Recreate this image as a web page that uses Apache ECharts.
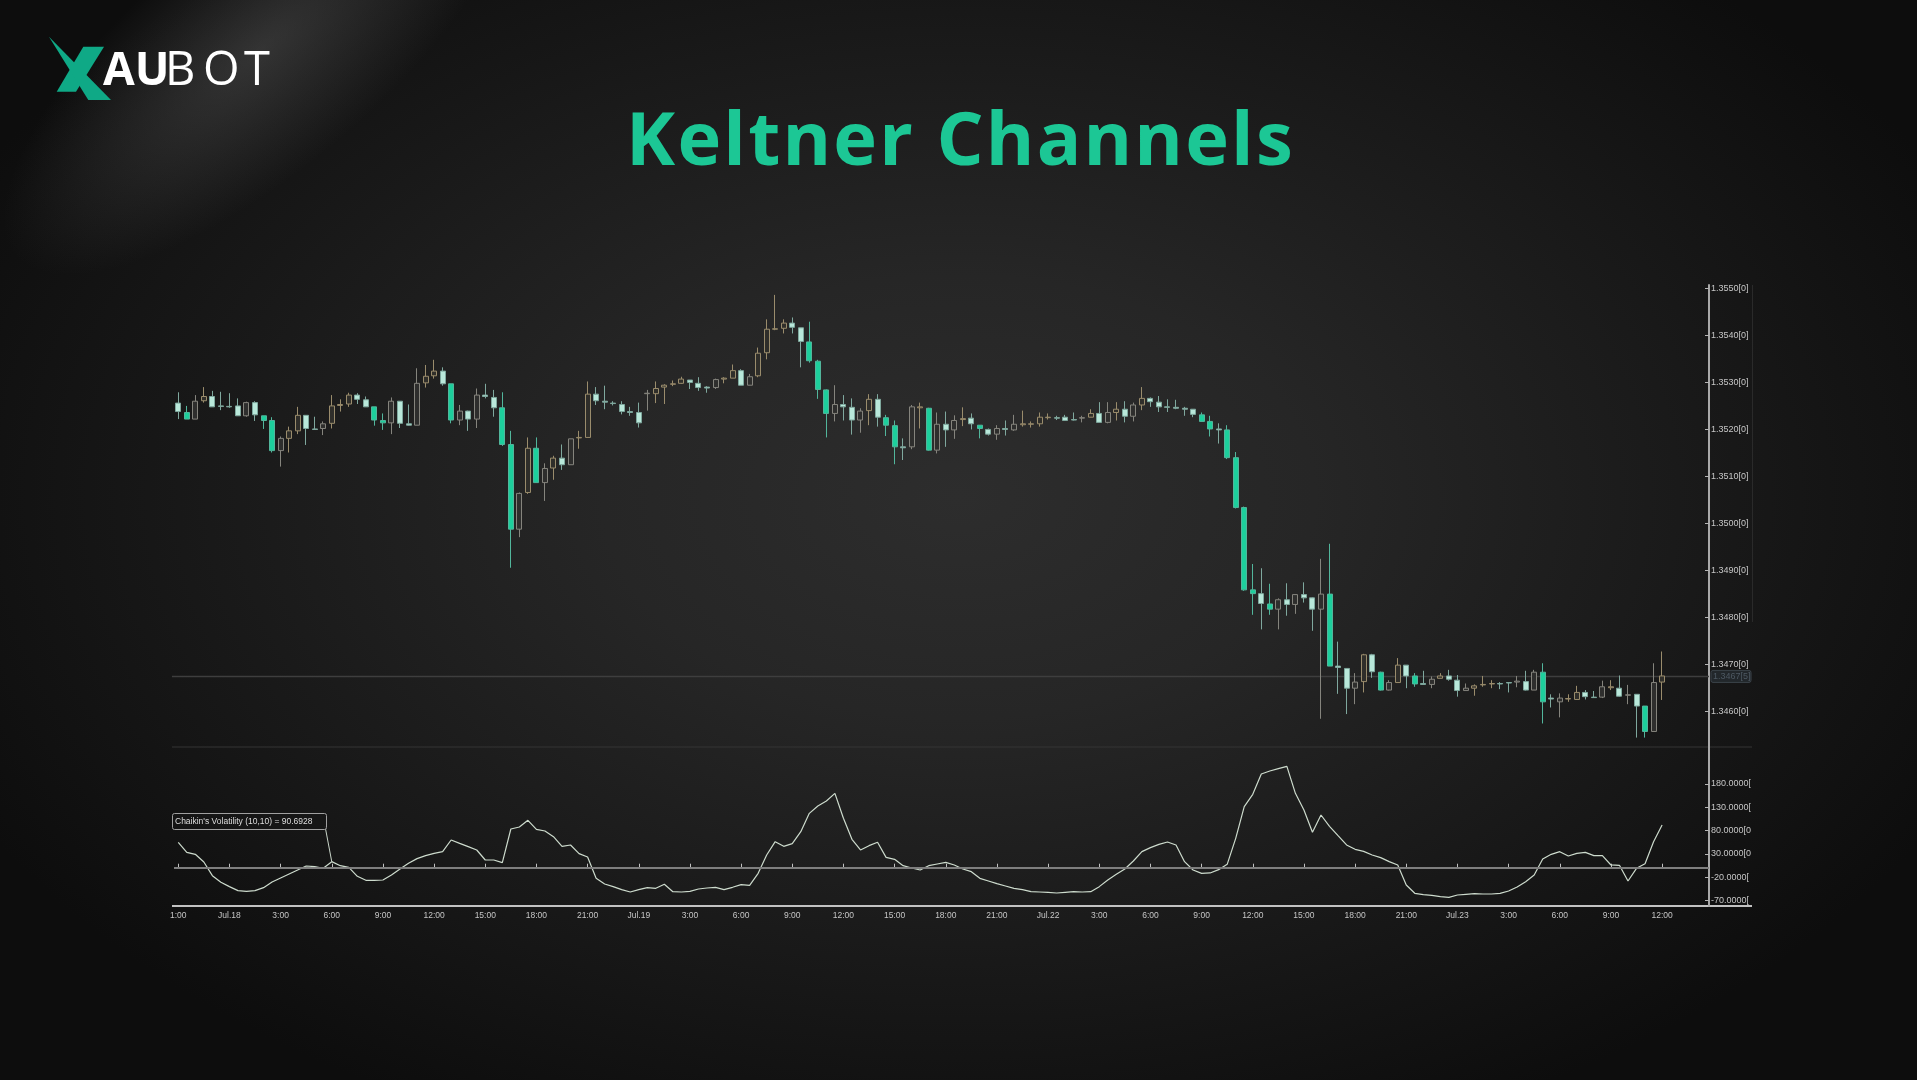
<!DOCTYPE html>
<html><head><meta charset="utf-8">
<script src="https://cdn.jsdelivr.net/npm/echarts@6/dist/echarts.min.js"></script>
<style>
html,body{margin:0;padding:0;width:1917px;height:1080px;overflow:hidden;background:#161616;}
#bg{position:absolute;left:0;top:0;width:1917px;height:1080px;
background:radial-gradient(ellipse 58% 64% at 50% 46%, #2d2d2d 0%, #262626 32%, #1b1b1b 62%, #0d0d0d 100%);}
#glow{position:absolute;left:-60px;top:-70px;width:640px;height:240px;transform:rotate(-40deg);
background:radial-gradient(closest-side, rgba(105,105,105,0.40), rgba(105,105,105,0));}
#chart{position:absolute;left:0;top:0;width:1917px;height:1080px;}
#title{position:absolute;left:0;width:1917px;top:87px;text-align:center;margin-left:2px;
font:bold 74px "Open Sans",sans-serif;letter-spacing:2.2px;color:#1cc795;line-height:100px;white-space:nowrap;}
</style></head>
<body><div id="bg"></div><div id="glow"></div><div id="title"></div><div id="chart"></div>
<script>
// ---- data (30-minute bars) ----
const OPEN = [
1.35256,1.35236,1.35222,1.35261,1.35270,1.35250,1.35249,1.35250,1.35229,1.35257,
1.35229,1.35219,1.35155,1.35181,1.35197,1.35230,1.35201,1.35202,1.35213,1.35251,
1.35254,1.35273,1.35263,1.35248,1.35219,1.35214,1.35260,1.35212,1.35209,1.35299,
1.35314,1.35324,1.35297,1.35220,1.35239,1.35222,1.35273,1.35268,1.35246,1.35168,
1.34988,1.35066,1.35160,1.35087,1.35118,1.35139,1.35125,1.35182,1.35183,1.35275,
1.35260,1.35256,1.35253,1.35238,1.35236,1.35276,1.35276,1.35290,1.35296,1.35298,
1.35305,1.35298,1.35290,1.35289,1.35307,1.35309,1.35325,1.35294,1.35314,1.35363,
1.35413,1.35415,1.35426,1.35416,1.35386,1.35345,1.35284,1.35234,1.35253,1.35247,
1.35220,1.35240,1.35264,1.35225,1.35208,1.35163,1.35163,1.35246,1.35245,1.35156,
1.35211,1.35199,1.35221,1.35224,1.35209,1.35200,1.35190,1.35202,1.35199,1.35210,
1.35211,1.35212,1.35225,1.35225,1.35226,1.35221,1.35224,1.35226,1.35234,1.35215,
1.35236,1.35243,1.35228,1.35252,1.35266,1.35258,1.35248,1.35247,1.35245,1.35243,
1.35231,1.35217,1.35201,1.35199,1.35140,1.35034,1.34859,1.34851,1.34829,1.34818,
1.34838,1.34828,1.34849,1.34842,1.34818,1.34850,1.34697,1.34692,1.34650,1.34664,
1.34721,1.34684,1.34646,1.34662,1.34699,1.34676,1.34660,1.34658,1.34671,1.34676,
1.34667,1.34645,1.34650,1.34657,1.34659,1.34660,1.34662,1.34663,1.34664,1.34646,
1.34684,1.34629,1.34621,1.34627,1.34626,1.34641,1.34631,1.34631,1.34651,1.34650,
1.34635,1.34637,1.34612,1.34558,1.34663];
const CLOSE = [
1.35238,1.35222,1.35260,1.35270,1.35248,1.35249,1.35248,1.35229,1.35257,1.35231,
1.35219,1.35155,1.35181,1.35197,1.35230,1.35202,1.35200,1.35212,1.35250,1.35253,
1.35273,1.35264,1.35248,1.35220,1.35214,1.35260,1.35213,1.35209,1.35298,1.35313,
1.35324,1.35297,1.35220,1.35239,1.35222,1.35273,1.35270,1.35246,1.35168,1.34988,
1.35064,1.35160,1.35087,1.35117,1.35139,1.35125,1.35180,1.35183,1.35275,1.35261,
1.35258,1.35255,1.35238,1.35236,1.35214,1.35277,1.35287,1.35294,1.35297,1.35307,
1.35300,1.35289,1.35288,1.35306,1.35309,1.35325,1.35294,1.35312,1.35362,1.35413,
1.35414,1.35426,1.35417,1.35387,1.35346,1.35285,1.35234,1.35253,1.35248,1.35220,
1.35239,1.35264,1.35226,1.35209,1.35163,1.35161,1.35248,1.35248,1.35156,1.35211,
1.35199,1.35219,1.35223,1.35212,1.35202,1.35190,1.35202,1.35200,1.35211,1.35212,
1.35212,1.35226,1.35226,1.35224,1.35219,1.35220,1.35225,1.35234,1.35215,1.35236,
1.35243,1.35228,1.35252,1.35266,1.35259,1.35248,1.35247,1.35245,1.35243,1.35232,
1.35217,1.35201,1.35199,1.35140,1.35034,1.34859,1.34851,1.34830,1.34818,1.34838,
1.34828,1.34849,1.34842,1.34818,1.34850,1.34697,1.34694,1.34650,1.34663,1.34721,
1.34685,1.34646,1.34662,1.34699,1.34676,1.34659,1.34658,1.34669,1.34676,1.34669,
1.34645,1.34650,1.34655,1.34658,1.34660,1.34659,1.34661,1.34665,1.34646,1.34684,
1.34621,1.34627,1.34629,1.34628,1.34641,1.34632,1.34630,1.34653,1.34653,1.34633,
1.34636,1.34612,1.34558,1.34662,1.34676];
const LOW = [
1.35222,1.35222,1.35222,1.35257,1.35248,1.35241,1.35246,1.35229,1.35227,1.35218,
1.35201,1.35151,1.35121,1.35151,1.35190,1.35167,1.35199,1.35188,1.35202,1.35238,
1.35248,1.35254,1.35248,1.35208,1.35199,1.35190,1.35203,1.35208,1.35209,1.35289,
1.35308,1.35293,1.35213,1.35209,1.35197,1.35203,1.35266,1.35227,1.35165,1.34906,
1.34971,1.35063,1.35087,1.35048,1.35093,1.35114,1.35125,1.35159,1.35183,1.35252,
1.35243,1.35251,1.35232,1.35229,1.35204,1.35240,1.35256,1.35254,1.35292,1.35297,
1.35286,1.35282,1.35278,1.35286,1.35298,1.35309,1.35294,1.35294,1.35311,1.35349,
1.35411,1.35404,1.35404,1.35332,1.35342,1.35265,1.35183,1.35217,1.35219,1.35189,
1.35193,1.35209,1.35206,1.35186,1.35126,1.35135,1.35158,1.35202,1.35155,1.35149,
1.35163,1.35180,1.35207,1.35200,1.35181,1.35187,1.35178,1.35187,1.35197,1.35206,
1.35204,1.35206,1.35221,1.35220,1.35219,1.35219,1.35215,1.35226,1.35215,1.35213,
1.35219,1.35215,1.35217,1.35241,1.35248,1.35237,1.35237,1.35243,1.35229,1.35226,
1.35217,1.35185,1.35170,1.35137,1.35032,1.34857,1.34806,1.34775,1.34806,1.34775,
1.34804,1.34808,1.34832,1.34772,1.34585,1.34697,1.34638,1.34595,1.34616,1.34641,
1.34672,1.34645,1.34645,1.34662,1.34650,1.34653,1.34658,1.34650,1.34671,1.34666,
1.34632,1.34645,1.34634,1.34653,1.34650,1.34648,1.34641,1.34652,1.34645,1.34646,
1.34575,1.34609,1.34588,1.34621,1.34625,1.34626,1.34630,1.34629,1.34646,1.34632,
1.34616,1.34545,1.34545,1.34558,1.34625];
const HIGH = [
1.35279,1.35250,1.35273,1.35290,1.35282,1.35280,1.35277,1.35266,1.35259,1.35260,
1.35229,1.35226,1.35185,1.35206,1.35248,1.35230,1.35227,1.35217,1.35273,1.35264,
1.35278,1.35277,1.35270,1.35248,1.35234,1.35268,1.35260,1.35253,1.35330,1.35337,
1.35348,1.35332,1.35297,1.35252,1.35240,1.35287,1.35297,1.35284,1.35279,1.35197,
1.35066,1.35183,1.35183,1.35128,1.35144,1.35168,1.35180,1.35197,1.35302,1.35290,
1.35293,1.35260,1.35260,1.35248,1.35257,1.35284,1.35302,1.35296,1.35304,1.35312,
1.35305,1.35311,1.35292,1.35308,1.35311,1.35338,1.35328,1.35318,1.35374,1.35434,
1.35486,1.35434,1.35438,1.35416,1.35429,1.35348,1.35285,1.35294,1.35273,1.35266,
1.35245,1.35275,1.35275,1.35231,1.35219,1.35181,1.35252,1.35257,1.35246,1.35236,
1.35238,1.35230,1.35247,1.35234,1.35209,1.35202,1.35209,1.35219,1.35231,1.35240,
1.35217,1.35236,1.35234,1.35229,1.35231,1.35236,1.35229,1.35243,1.35258,1.35258,
1.35258,1.35260,1.35257,1.35290,1.35268,1.35271,1.35264,1.35263,1.35248,1.35243,
1.35236,1.35229,1.35213,1.35209,1.35152,1.35036,1.34914,1.34905,1.34872,1.34841,
1.34873,1.34850,1.34875,1.34843,1.34925,1.34957,1.34749,1.34692,1.34682,1.34723,
1.34723,1.34685,1.34667,1.34714,1.34699,1.34682,1.34687,1.34675,1.34682,1.34689,
1.34678,1.34660,1.34658,1.34676,1.34667,1.34663,1.34663,1.34676,1.34687,1.34689,
1.34703,1.34637,1.34639,1.34637,1.34655,1.34646,1.34644,1.34666,1.34667,1.34677,
1.34657,1.34637,1.34612,1.34703,1.34728];
const CHAIKIN = [
54.6,33.1,28.8,12.3,-17.1,-31.4,-40.7,-49.3,-50.7,-49.3,
-42.9,-30.7,-22.1,-13.5,-4.9,3.7,2.3,-1.3,13.0,4.4,
0.8,-18.5,-27.1,-27.1,-26.4,-15.6,-2.7,9.4,19.5,25.9,
30.9,34.5,59.6,52.4,45.3,38.1,16.6,16.6,10.9,83.2,
87.5,101.9,82.5,78.9,66.8,46.0,48.9,30.2,23.1,-22.8,
-35.0,-40.7,-47.2,-52.2,-47.2,-42.9,-44.3,-35.7,-51.5,-52.2,
-50.7,-45.7,-43.6,-42.1,-47.2,-42.1,-36.4,-37.9,-12.1,27.4,
56.0,46.0,51.7,77.5,116.9,132.7,143.4,159.9,106.2,61.0,
38.1,47.4,54.6,22.3,18.0,4.4,-0.6,-4.9,4.4,8.0,
11.6,5.9,-2.7,-8.5,-22.8,-28.5,-34.3,-39.3,-44.3,-47.2,
-51.5,-52.2,-52.9,-54.3,-52.9,-51.5,-52.2,-51.5,-40.7,-26.4,
-14.2,-2.7,14.5,34.5,43.1,50.3,55.3,48.9,13.0,-4.9,
-12.1,-11.3,-4.2,7.3,63.2,131.2,157.8,201.5,207.9,212.9,
217.9,159.9,124.1,76.1,113.3,89.0,68.9,48.9,39.5,35.2,
27.4,21.6,13.0,5.9,-37.1,-55.0,-57.9,-59.3,-62.2,-63.6,
-58.6,-57.2,-55.8,-56.5,-56.5,-55.0,-50.0,-41.4,-30.0,-15.6,
18.8,28.8,34.5,25.2,30.9,33.1,25.9,25.9,5.9,5.2,
-28.5,-1.3,8.6,56.0,91.8];
const X_TICK_LABELS = ['1:00','Jul.18','3:00','6:00','9:00','12:00','15:00','18:00','21:00',
  'Jul.19','3:00','6:00','9:00','12:00','15:00','18:00','21:00',
  'Jul.22','3:00','6:00','9:00','12:00','15:00','18:00','21:00',
  'Jul.23','3:00','6:00','9:00','12:00'];
const PRICE_TICKS = [1.3460,1.3470,1.3480,1.3490,1.3500,1.3510,1.3520,1.3530,1.3540,1.3550];
const VOL_TICKS = [-70,-20,30,80,130,180];
const LAST_PRICE = 1.34675;
const LAST_PRICE_LABEL = '1.3467[5]';
const INDICATOR_LABEL = "Chaikin's Volatility (10,10) = 90.6928";
const TITLE = 'Keltner Channels';
const BARS_PER_TICK = 6;
const SLOTS = 180; // bar slots on the time axis (last few empty)

document.getElementById('title').textContent = TITLE;

// ---- build ----
const categories = Array.from({length: SLOTS}, (_, i) => 'b' + i);
const GREEN = '#1dcf9c', PALE = '#b9e8da';
const candles = OPEN.map((o, i) => {
  const c = CLOSE[i];
  const up = c >= o;
  const body = Math.abs(c - o);
  const prevDown = i > 0 && (OPEN[i-1] - CLOSE[i-1]) >= 0.0001;
  const prevUp = i > 0 && CLOSE[i-1] >= OPEN[i-1];
  let st;
  if (!up) {
    const green = (prevDown && body >= 0.00005) || body >= 0.0005;
    st = green ? {color: GREEN, color0: GREEN, borderColor: '#52b69c', borderColor0: '#52b69c'}
               : {color: PALE, color0: PALE, borderColor: '#7fa89e', borderColor0: '#7fa89e'};
  } else if (prevUp) {
    st = {color: '#2f2e2a', color0: '#2f2e2a', borderColor: '#9a8c6c', borderColor0: '#9a8c6c'};
  } else {
    st = {color: '#2e2e2d', color0: '#2e2e2d', borderColor: '#85847d', borderColor0: '#85847d'};
  }
  st.borderWidth = 1;
  return {value: [o, c, LOW[i], HIGH[i]], itemStyle: st};
});

const tickFilter = (idx) => idx % BARS_PER_TICK === 0 && idx / BARS_PER_TICK < X_TICK_LABELS.length;
const LEFT = 174, RIGHTX = 1709, TOP = 285, MID = 747, BOT = 906;
const labelFont = {color: '#c6c6c6', fontFamily: '"Liberation Sans", Arial, sans-serif'};

const option = {
  backgroundColor: 'transparent',
  animation: false,
  grid: [
    {left: LEFT, right: 1917 - RIGHTX, top: TOP, height: MID - TOP},
    {left: LEFT, right: 1917 - RIGHTX, top: MID, height: BOT - MID}
  ],
  xAxis: [
    {type: 'category', gridIndex: 0, data: categories, boundaryGap: true,
     axisLine: {show: false}, axisTick: {show: false}, axisLabel: {show: false}, splitLine: {show: false}},
    {type: 'category', gridIndex: 1, data: categories, boundaryGap: true,
     axisLine: {show: false},
     axisTick: {show: true, inside: true, length: 4, alignWithLabel: true, interval: tickFilter,
                lineStyle: {color: '#c0c0c0', width: 1}},
     axisLabel: Object.assign({show: true, interval: tickFilter, margin: 5, fontSize: 8.5,
                formatter: (v, idx) => X_TICK_LABELS[idx / BARS_PER_TICK]}, labelFont),
     splitLine: {show: false}}
  ],
  yAxis: [
    {type: 'value', gridIndex: 0, position: 'right', min: 1.34525, max: 1.35507, scale: true,
     axisLine: {show: true, lineStyle: {color: '#a9a9a9', width: 2}},
     axisTick: {show: true, inside: true, length: 4, customValues: PRICE_TICKS, lineStyle: {color: '#b5b5b5'}},
     axisLabel: Object.assign({show: true, margin: 2, fontSize: 9, customValues: PRICE_TICKS,
                formatter: v => v.toFixed(4) + '[0]'}, labelFont),
     splitLine: {show: false}},
    {type: 'value', gridIndex: 1, position: 'right', min: -82.3, max: 259.5,
     axisLine: {show: true, lineStyle: {color: '#a9a9a9', width: 2}},
     axisTick: {show: true, inside: true, length: 4, customValues: VOL_TICKS, lineStyle: {color: '#b5b5b5'}},
     axisLabel: Object.assign({show: true, margin: 2, fontSize: 9, customValues: VOL_TICKS,
                formatter: v => (v.toFixed(4) + '[0]').slice(0, 9)}, labelFont),
     splitLine: {show: false}}
  ],
  series: [
    {type: 'candlestick', xAxisIndex: 0, yAxisIndex: 0, data: candles, barWidth: 5.5, z: 3},
    {type: 'line', xAxisIndex: 1, yAxisIndex: 1, data: CHAIKIN, showSymbol: false, symbol: 'none',
     lineStyle: {color: '#cddbcd', width: 1.2},
     markLine: {silent: true, symbol: 'none', label: {show: false},
       lineStyle: {color: '#7e7e7e', width: 2, type: 'solid'}, data: [{yAxis: 0}]}, z: 3}
  ]
};

const chart = echarts.init(document.getElementById('chart'));
chart.setOption(option);

const lastY = chart.convertToPixel({yAxisIndex: 0}, LAST_PRICE);
const ptr = chart.convertToPixel({gridIndex: 1}, [18, CHAIKIN[18]]);
const TEAL = '#0fa986';
const LOGO_FONT = '47px "Open Sans", sans-serif';
chart.setOption({graphic: [
  // logo
  {type: 'polygon', shape: {points: [[83.3,46.7],[104,46.7],[76,91.7],[56.7,91.7]]}, style: {fill: TEAL}},
  {type: 'polygon', shape: {points: [[49,36.7],[111,100],[88.3,100]]}, style: {fill: TEAL}},
  {type: 'text', x: 103, y: 72, style: {text: 'AU', fill: '#ffffff', font: 'bold 46px "Open Sans", sans-serif', verticalAlign: 'middle'}},
  {type: 'text', x: 165, y: 72, style: {text: 'B', fill: '#ffffff', font: LOGO_FONT, verticalAlign: 'middle'}},
  {type: 'text', x: 203, y: 72, style: {text: 'O', fill: '#ffffff', font: LOGO_FONT, verticalAlign: 'middle'}},
  {type: 'text', x: 244, y: 72, style: {text: 'T', fill: '#ffffff', font: LOGO_FONT, verticalAlign: 'middle'}},
  // pane frame lines
  {type: 'line', shape: {x1: 172, y1: MID, x2: 1752, y2: MID}, style: {stroke: '#353535', lineWidth: 1}},
  {type: 'line', shape: {x1: 1752.5, y1: TOP, x2: 1752.5, y2: 622}, style: {stroke: '#2a2a2a', lineWidth: 1}},
  {type: 'line', shape: {x1: 172, y1: BOT, x2: 1752, y2: BOT}, style: {stroke: '#c2c2c2', lineWidth: 2}},
  // last price line + box
  {type: 'line', shape: {x1: 172, y1: lastY, x2: RIGHTX, y2: lastY}, style: {stroke: '#3e3e3e', lineWidth: 1.5}, z: 1},
  {type: 'rect', shape: {x: 1711, y: lastY - 6, width: 40, height: 12, r: 2}, style: {fill: '#22272b', stroke: '#3b434a', lineWidth: 1}},
  {type: 'text', x: 1713, y: lastY, style: {text: LAST_PRICE_LABEL, fill: '#4d5862', font: '9px "Liberation Sans", Arial', verticalAlign: 'middle'}},
  // indicator label
  {type: 'line', shape: {x1: 325, y1: 826, x2: ptr[0], y2: ptr[1]}, style: {stroke: '#c8d4c8', lineWidth: 1}, z: 10},
  {type: 'rect', shape: {x: 172.5, y: 813.5, width: 154, height: 16, r: 2}, style: {fill: 'rgba(22,22,22,0.9)', stroke: '#a0a0a0', lineWidth: 1}, z: 10},
  {type: 'text', x: 175, y: 822, style: {text: INDICATOR_LABEL, fill: '#dedede', font: '8.5px "Liberation Sans", Arial', verticalAlign: 'middle'}, z: 11}
]});
</script>
</body></html>
